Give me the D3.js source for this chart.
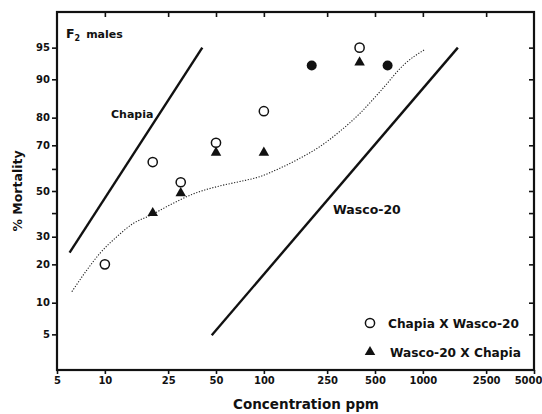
<!DOCTYPE html>
<html>
<head>
<meta charset="utf-8">
<script src="https://cdn.jsdelivr.net/npm/d3@7"></script>
<style>
  html, body { margin: 0; padding: 0; background: #fff; }
  svg { display: block; }
  text { font-family: "DejaVu Sans", "Liberation Sans", sans-serif; font-weight: bold; fill: #111; }
</style>
</head>
<body>
<svg id="chart" width="542" height="414"></svg>
<script>
// Concentration (ppm) axis ticks, log scale
const xTicks = [5, 10, 25, 50, 100, 250, 500, 1000, 2500, 5000];
// % Mortality axis ticks, probit scale (40 and 60 are unlabelled)
const yTicks = [5, 10, 20, 30, 40, 50, 60, 70, 80, 90, 95];
const yTickLabels = ["5", "10", "20", "30", "", "50", "", "70", "80", "90", "95"];

// Chapia X Wasco-20 (open circles): [ppm, % mortality]
const chapiaXWasco = [[10, 20], [20, 63], [30, 54], [50, 71], [100, 82], [400, 95]];
// Wasco-20 X Chapia (filled triangles)
const wascoXChapia = [[20, 40], [30, 49], [50, 67], [100, 67], [400, 93]];
// Concentrations where both crosses gave the same response (filled circles)
const bothCrosses = [[200, 92.5], [600, 92.5]];

// Parental probit lines (end points)
const chapiaLine = [[6, 24], [41, 95]];
const wascoLine = [[47, 4.9], [1660, 95]];

// Fitted response curve for the F2 crosses
const f2Curve = [[6.2, 12.4], [7.7, 18.2], [9.3, 23.7], [11.9, 30], [15.1, 35.5],
  [19.6, 39.2], [25.6, 43.6], [35.8, 48.6], [52.7, 52.3], [70.4, 54.3], [94, 56.5],
  [126, 60.3], [168, 64.6], [224, 69.4], [299, 75.2], [399, 81.2], [556, 87.9],
  [764, 92.7], [1035, 94.8]];

// Inverse standard normal CDF (Acklam's rational approximation)
function probit(p) {
  const a = [-3.969683028665376e+01, 2.209460984245205e+02, -2.759285104469687e+02,
             1.383577518672690e+02, -3.066479806614716e+01, 2.506628277459239e+00];
  const b = [-5.447609879822406e+01, 1.615858368580409e+02, -1.556989798598866e+02,
             6.680131188771972e+01, -1.328068155288572e+01];
  const c = [-7.784894002430293e-03, -3.223964580411365e-01, -2.400758277161838e+00,
             -2.549732539343734e+00, 4.374664141464968e+00, 2.938163982698783e+00];
  const d = [7.784695709041462e-03, 3.224671290700398e-01, 2.445134137142996e+00,
             3.754408661907416e+00];
  const pl = 0.02425, ph = 1 - pl;
  let q, r;
  if (p < pl) {
    q = Math.sqrt(-2 * Math.log(p));
    return (((((c[0]*q+c[1])*q+c[2])*q+c[3])*q+c[4])*q+c[5]) / ((((d[0]*q+d[1])*q+d[2])*q+d[3])*q+1);
  } else if (p <= ph) {
    q = p - 0.5; r = q * q;
    return (((((a[0]*r+a[1])*r+a[2])*r+a[3])*r+a[4])*r+a[5])*q / (((((b[0]*r+b[1])*r+b[2])*r+b[3])*r+b[4])*r+1);
  } else {
    q = Math.sqrt(-2 * Math.log(1 - p));
    return -(((((c[0]*q+c[1])*q+c[2])*q+c[3])*q+c[4])*q+c[5]) / ((((d[0]*q+d[1])*q+d[2])*q+d[3])*q+1);
  }
}

const svg = d3.select("#chart");
const plotL = 57, plotR = 534, plotT = 12, plotB = 370;

const x = d3.scaleLog().domain([5, 5000]).range([plotL, plotR]);
const yProbit = d3.scaleLinear().domain([probit(0.02), probit(0.98)]).range([plotB, plotT]);
const y = pct => yProbit(probit(pct / 100));

const yTickVals = yTicks.map(p => probit(p / 100));
const yLabelFor = v => yTickLabels[yTickVals.findIndex(t => Math.abs(t - v) < 1e-9)];

// Axes
const axisStyle = g => {
  g.select(".domain").remove();
  g.selectAll(".tick line").attr("stroke", "#111").attr("stroke-width", 1.6);
  g.selectAll(".tick text").style("font-size", "10px").attr("fill", "#111");
};

svg.append("g").attr("transform", `translate(${plotL},0)`)
  .call(d3.axisLeft(yProbit).tickValues(yTickVals).tickFormat(yLabelFor).tickSize(5).tickPadding(2))
  .call(axisStyle);

svg.append("g").attr("transform", `translate(${plotR},0)`)
  .call(d3.axisLeft(yProbit).tickValues(yTickVals).tickFormat("").tickSize(5))
  .call(axisStyle);

const xAxisG = svg.append("g").attr("transform", `translate(0,${plotB})`)
  .call(d3.axisBottom(x).tickValues(xTicks).tickFormat(d3.format("d")).tickSize(4).tickPadding(3))
  .call(axisStyle);
// keep the last label inside the page edge
xAxisG.selectAll(".tick text").filter(d => d === 5000)
  .attr("text-anchor", "end").attr("dx", "8");

svg.append("g").attr("transform", `translate(0,${plotT})`)
  .call(d3.axisBottom(x).tickValues(xTicks.slice(1, -1)).tickFormat("").tickSize(5))
  .call(axisStyle);

// Plot frame
svg.append("rect")
  .attr("x", plotL).attr("y", plotT)
  .attr("width", plotR - plotL).attr("height", plotB - plotT)
  .attr("fill", "none").attr("stroke", "#111").attr("stroke-width", 2.2);

// Axis titles
svg.append("text")
  .attr("x", 306).attr("y", 409)
  .attr("text-anchor", "middle")
  .style("font-size", "13.5px")
  .text("Concentration ppm");

svg.append("text")
  .attr("transform", `translate(22,${(plotT + plotB) / 2}) rotate(-90)`)
  .attr("text-anchor", "middle")
  .style("font-size", "12.5px")
  .text("% Mortality");

// Panel title
const title = svg.append("text").attr("x", 66).attr("y", 38).style("font-size", "11px");
title.append("tspan").style("font-size", "12.5px").text("F");
title.append("tspan").attr("dy", 3).style("font-size", "8px").text("2");
title.append("tspan").attr("dy", -3).attr("dx", 6).text("males");

// Parental lines
const line = d3.line().x(d => x(d[0])).y(d => y(d[1]));
svg.append("path").datum(chapiaLine).attr("d", line)
  .attr("fill", "none").attr("stroke", "#111").attr("stroke-width", 2.4);
svg.append("path").datum(wascoLine).attr("d", line)
  .attr("fill", "none").attr("stroke", "#111").attr("stroke-width", 2.4);

svg.append("text").attr("x", 111).attr("y", 118).style("font-size", "11px").text("Chapia");
svg.append("text").attr("x", 333).attr("y", 214).style("font-size", "12.5px").text("Wasco-20");

// F2 fitted curve (dotted)
svg.append("path").datum(f2Curve)
  .attr("d", d3.line().x(d => x(d[0])).y(d => y(d[1])).curve(d3.curveMonotoneX))
  .attr("fill", "none").attr("stroke", "#222").attr("stroke-width", 1.1)
  .attr("stroke-dasharray", "1.2,1.6");

// Points
svg.append("g").selectAll("circle").data(chapiaXWasco).join("circle")
  .attr("cx", d => x(d[0])).attr("cy", d => y(d[1])).attr("r", 4.6)
  .attr("fill", "#fff").attr("stroke", "#111").attr("stroke-width", 1.5);

svg.append("g").selectAll("path").data(wascoXChapia).join("path")
  .attr("transform", d => `translate(${x(d[0])},${y(d[1])})`)
  .attr("d", d3.symbol(d3.symbolTriangle, 48)())
  .attr("fill", "#111");

svg.append("g").selectAll("circle").data(bothCrosses).join("circle")
  .attr("cx", d => x(d[0])).attr("cy", d => y(d[1])).attr("r", 5)
  .attr("fill", "#111");

// Legend
const legend = svg.append("g");
legend.append("circle").attr("cx", 370).attr("cy", 323).attr("r", 4.6)
  .attr("fill", "#fff").attr("stroke", "#111").attr("stroke-width", 1.5);
legend.append("text").attr("x", 388).attr("y", 327.5).style("font-size", "12.2px").text("Chapia X Wasco-20");
legend.append("path").attr("transform", "translate(370,352)")
  .attr("d", d3.symbol(d3.symbolTriangle, 48)()).attr("fill", "#111");
legend.append("text").attr("x", 390).attr("y", 356.5).style("font-size", "12.2px").text("Wasco-20 X Chapia");
</script>
</body>
</html>
